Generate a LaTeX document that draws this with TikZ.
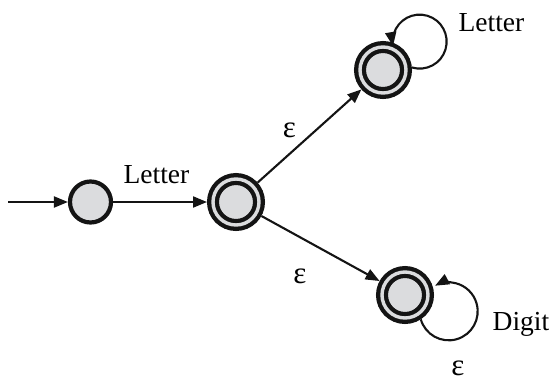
\documentclass[tikz,border=0pt]{standalone}
\usepackage{fontspec}
\setmainfont{Liberation Serif}
\usetikzlibrary{arrows.meta}
\definecolor{statefill}{RGB}{219,220,222}
\definecolor{ink}{RGB}{20,20,20}
\begin{document}
\begin{tikzpicture}[x=1pt,y=-1pt,
  state/.style={circle, draw=ink, fill=statefill, line width=4.2pt,
    minimum size=41pt, inner sep=0pt},
  accept/.style={circle, draw=ink, fill=statefill, line width=4.3pt,
    double=statefill, double distance=3.4pt, minimum size=46pt,
    inner sep=0pt, outer sep=6pt},
  trans/.style={draw=ink, line width=2.1pt,
    -{Triangle[length=14pt,width=11pt]}},
  lbl/.style={font=\fontsize{27.5}{32}\selectfont, inner sep=0pt, anchor=base},
  eps/.style={font=\fontsize{31}{34}\selectfont, inner sep=0pt, anchor=base}
]
\useasboundingbox (0,0) rectangle (552,381);

% states
\node[state]  (s0) at (90.5,202) {};
\node[accept] (s1) at (236,202) {};
\node[accept] (s2) at (383,70) {};
\node[accept] (s3) at (405,295) {};
\coordinate (entry) at (8,202);

% transitions
\draw[trans] (entry) -- (s0);
\draw[trans] (s0) -- (s1);
\draw[trans] (s1) -- (s2);
\draw[trans] (s1) -- (s3);
\draw[trans] (s2.5) arc[start angle=106.7, end angle=-189.5, radius=27];
\draw[trans] (s3.-57) arc[start angle=164, end angle=-118, radius=29];

% labels
\node[lbl] (l1) at (156.5,183) {Letter};
\node[lbl] (l2) at (491.5,31) {Letter};
\node[eps] (e1) at (289.5,137) {ε};
\node[eps] (e2) at (300,283) {ε};
\node[lbl] (dg) at (521,330) {Digit};
\node[eps] (e3) at (458,375) {ε};
\end{tikzpicture}
\end{document}
